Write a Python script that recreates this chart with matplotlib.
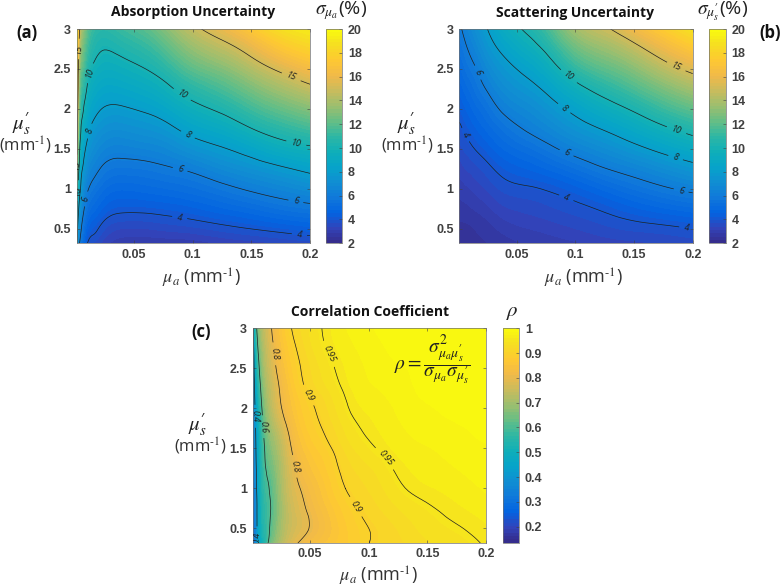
import numpy as np
import matplotlib
matplotlib.use('Agg')
from matplotlib import pyplot as plt
from matplotlib import tri
from matplotlib.colors import LinearSegmentedColormap

# grid the values were read on
mua = [0.001, 0.003, 0.006, 0.01, 0.015, 0.025, 0.04, 0.06, 0.08, 0.1, 0.125, 0.15, 0.175, 0.2]
mus = [0.3, 0.5, 0.75, 1, 1.25, 1.5, 1.75, 2, 2.25, 2.5, 2.75, 3]

# one list per mua column, bottom to top in mus
absorption = [
    [8.5, 9.5, 10.5, 12.2, 15, 17.5, 19, 20, 20.5, 21, 21.5, 22],
    [6.2, 7, 7.9, 9, 10.1, 11, 11.9, 12.7, 13.4, 14.1, 14.85, 15.6],
    [5.1, 5.7, 6.45, 7.25, 8, 8.75, 9.5, 10.3, 11.1, 11.9, 12.7, 13.5],
    [4, 4.63, 5.43, 6.2, 6.95, 7.7, 8.45, 9.18, 9.92, 10.65, 11.4, 12.15],
    [3.6, 4.22, 4.95, 5.66, 6.36, 7.05, 7.72, 8.42, 9.1, 9.8, 10.5, 11.2],
    [3.2, 3.7, 4.42, 5.1, 5.8, 6.5, 7.2, 7.92, 8.62, 9.33, 10.03, 10.75],
    [2.9, 3.4, 4.15, 4.85, 5.6, 6.35, 7.1, 7.88, 8.68, 9.5, 10.35, 11.25],
    [2.85, 3.4, 4.17, 4.95, 5.68, 6.5, 7.33, 8.17, 9.07, 10, 10.95, 11.95],
    [2.85, 3.5, 4.28, 5.1, 5.9, 6.8, 7.75, 8.75, 9.8, 10.9, 12.05, 13.2],
    [2.9, 3.6, 4.45, 5.3, 6.2, 7.35, 8.45, 9.55, 10.7, 12, 13.3, 14.6],
    [3.1, 3.8, 4.75, 5.7, 6.8, 7.9, 9.05, 10.3, 11.55, 12.9, 14.35, 15.8],
    [3.2, 4, 5.05, 6.15, 7.3, 8.55, 9.95, 11.3, 12.65, 14.1, 15.6, 17.2],
    [3.35, 4.2, 5.4, 6.55, 7.8, 9.3, 10.75, 12.2, 13.7, 15.3, 17, 18.6],
    [3.45, 4.4, 5.65, 6.95, 8.3, 9.75, 11.35, 12.95, 14.6, 16.3, 17.9, 19.2],
]
scattering = [
    [2.55, 2.5, 2.7, 2.95, 3.25, 3.55, 3.88, 4.25, 4.65, 5.05, 5.45, 5.9],
    [2.5, 2.5, 2.72, 3, 3.3, 3.65, 3.97, 4.33, 4.73, 5.15, 5.57, 6],
    [2.45, 2.5, 2.75, 3.05, 3.4, 3.75, 4.12, 4.5, 4.93, 5.38, 5.83, 6.3],
    [2.45, 2.52, 2.8, 3.12, 3.48, 3.87, 4.28, 4.7, 5.15, 5.65, 6.15, 6.65],
    [2.48, 2.58, 2.88, 3.22, 3.6, 4.03, 4.5, 4.97, 5.47, 5.96, 6.55, 7.15],
    [2.55, 2.72, 3.05, 3.45, 3.85, 4.35, 4.9, 5.45, 6.1, 6.75, 7.4, 8],
    [2.7, 2.95, 3.35, 3.78, 4.25, 4.85, 5.5, 6.25, 6.95, 7.6, 8.35, 9.2],
    [2.85, 3.12, 3.5, 3.92, 4.55, 5.3, 6.15, 6.85, 7.6, 8.4, 9.35, 10.3],
    [2.95, 3.25, 3.65, 4.1, 4.9, 5.85, 6.75, 7.55, 8.45, 9.5, 10.65, 11.8],
    [3.05, 3.4, 3.82, 4.4, 5.35, 6.4, 7.4, 8.35, 9.5, 10.9, 12.3, 13.7],
    [3.2, 3.6, 4.1, 4.9, 5.95, 7, 8.1, 9.3, 10.6, 12, 13.4, 14.8],
    [3.3, 3.75, 4.45, 5.4, 6.45, 7.65, 8.9, 10.2, 11.6, 13, 14.5, 16.1],
    [3.4, 3.85, 4.75, 5.85, 7, 8.35, 9.75, 11.2, 12.7, 14.3, 15.9, 17.5],
    [3.5, 4, 5, 6.25, 7.55, 9, 10.5, 12.05, 13.7, 15.4, 17.1, 18.8],
]
correlation = [
    [.28, .28, .27, .27, .28, .28, .28, .28, .3, .3, .32, .33],
    [.33, .33, .34, .35, .36, .37, .38, .4, .42, .45, .48, .52],
    [.45, .45, .45, .46, .47, .48, .49, .51, .54, .58, .62, .66],
    [.52, .54, .55, .56, .57, .58, .6, .63, .66, .69, .71, .73],
    [.62, .595, .59, .6, .625, .65, .68, .71, .73, .75, .765, .78],
    [.72, .7, .69, .7, .71, .73, .76, .795, .81, .83, .845, .86],
    [.805, .775, .78, .795, .815, .835, .855, .87, .885, .895, .905, .915],
    [.85, .83, .84, .855, .87, .885, .9, .91, .925, .935, .945, .95],
    [.875, .875, .885, .9, .91, .922, .935, .946, .954, .96, .966, .972],
    [.9, .9, .91, .92, .93, .945, .955, .962, .97, .975, .98, .985],
    [.915, .92, .932, .945, .954, .963, .97, .975, .98, .985, .99, .99],
    [.93, .938, .947, .958, .965, .972, .98, .985, .99, .99, .995, .995],
    [.94, .948, .957, .965, .973, .98, .985, .99, .992, .995, .995, .998],
    [.952, .958, .965, .975, .98, .985, .99, .993, .995, .997, .998, 1.0],
]

xticks = [0.05, 0.1, 0.15, 0.2]
xticklabels = ['0.05', '0.1', '0.15', '0.2']
yticks = [0.5, 1, 1.5, 2, 2.5, 3]
yticklabels = ['0.5', '1', '1.5', '2', '2.5', '3']
unc_ticks = [2, 4, 6, 8, 10, 12, 14, 16, 18, 20]
rho_ticks = [.2, .3, .4, .5, .6, .7, .8, .9, 1]
rho_ticklabels = ['0.2', '0.3', '0.4', '0.5', '0.6', '0.7', '0.8', '0.9', '1']
unc_levels = [4, 6, 8, 10, 15]
rho_levels = [.4, .6, .8, .9, .95]

# parula, every few entries of the table
parula = LinearSegmentedColormap.from_list('parula', [
    (.2081, .1663, .5292), (.1959, .2645, .7279), (.0117, .3875, .8820),
    (.0629, .4737, .8554), (.0641, .5570, .8240), (.0231, .6418, .7913),
    (.0590, .6838, .7254), (.1801, .7177, .6424), (.3953, .7459, .5244),
    (.6099, .7473, .4337), (.7858, .7356, .3633), (.9450, .7261, .2886),
    (.9955, .7861, .1967), (.9626, .8705, .1309), (.9763, .9831, .0538)], N=256)

plt.rcParams['font.family'] = ['Open Sans', 'DejaVu Sans']
plt.rcParams['mathtext.fontset'] = 'stix'
plt.rcParams['mathtext.default'] = 'it'

W, H = 781, 587
fig = plt.figure(figsize=(W / 100, H / 100), dpi=100)
grey = '#404040'
prime = '^{\\mathregular{\u2032}}'


def box(x0, y0, x1, y1):
    # pixel box (y down) to figure fractions
    return [x0 / W, 1 - y1 / H, (x1 - x0) / W, (y1 - y0) / H]


def put(x, y, s, **kw):
    return fig.text(x / W, 1 - y / H, s, ha='center', va='center', **kw)


def panel(values, pos, cpos, vmin, vmax, levels, label_pos, cticks, cticklabels):
    ax = fig.add_axes(box(*pos))
    xx, yy = np.meshgrid(mua, mus)
    z = np.array(values).T.ravel()
    # smooth the read grid with matplotlib's cubic refiner; sqrt of mua keeps the cells even
    t = tri.Triangulation(np.sqrt(xx.ravel() / 0.2), yy.ravel() / 3)
    fine, zf = tri.UniformTriRefiner(t).refine_field(z, tri.CubicTriInterpolator(t, z), subdiv=3)
    fine = tri.Triangulation(fine.x ** 2 * 0.2, fine.y * 3, fine.triangles)
    fill = ax.tricontourf(fine, np.clip(zf, vmin, vmax), levels=np.linspace(vmin, vmax, 65),
                          cmap=parula, vmin=vmin, vmax=vmax)
    lines = ax.tricontour(fine, zf, levels=levels, colors='#202020', linewidths=0.5)
    lab = ax.clabel(lines, manual=label_pos, inline=True, fontsize=6.5, fmt='%g')
    for tx in lab:
        tx.set_fontstyle('italic')
    ax.set_xlim(0.001, 0.2)
    ax.set_ylim(0.32, 3)
    ax.set_xticks(xticks, xticklabels)
    ax.set_yticks(yticks, yticklabels)
    ax.tick_params(direction='in', length=2, width=0.4, color=grey, labelcolor=grey,
                   labelsize=9, pad=4, top=True, right=True)
    for tx in ax.get_xticklabels() + ax.get_yticklabels():
        tx.set_family('Liberation Sans')
        tx.set_weight('bold')
    for s in ax.spines.values():
        s.set_linewidth(0.5)
        s.set_color('#707070')

    cax = fig.add_axes(box(*cpos))
    cb = fig.colorbar(fill, cax=cax)
    cb.set_ticks(cticks, labels=cticklabels)
    cb.ax.tick_params(direction='in', length=2, width=0.4, color=grey, labelcolor=grey,
                      labelsize=9, pad=4)
    for tx in cb.ax.get_yticklabels():
        tx.set_family('Liberation Sans')
        tx.set_weight('bold')
    cb.outline.set_linewidth(0.5)
    cb.outline.set_edgecolor('#707070')
    return ax


panel(absorption, (76.5, 29, 310, 243.3), (326, 29, 342.3, 243.3), 2, 20, unc_levels,
      [(.089, .65), (.191, .43), (.009, .875), (.089, 1.225), (.188, .85),
       (.013, 1.72), (.096, 1.68), (.012, 2.45), (.091, 2.18), (.188, 1.55), (.184, 2.4),
       (.0035, 2.75), (.002, .98), (.0015, 1.3)],
      unc_ticks, [str(t) for t in unc_ticks])
panel(scattering, (459.3, 29, 692.7, 243.3), (709.3, 29, 726, 243.3), 2, 20, unc_levels,
      [(.006, 1.675), (.092, .88), (.195, .52), (.016, 2.45), (.093, 1.47), (.19, .97),
       (.09, 2.0), (.185, 1.37), (.095, 2.42), (.186, 1.725), (.186, 2.53)],
      unc_ticks, [str(t) for t in unc_ticks])
panel(correlation, (252.7, 328.3, 486, 542.7), (503.3, 328.3, 519.3, 542.7), 0.135, 1, rho_levels,
      [(.003, 1.9), (.004, .38), (.0097, 1.77), (.019, 2.68), (.035, 1.27), (.047, 2.15),
       (.089, .77), (.066, 2.68), (.112, 1.35)],
      rho_ticks, rho_ticklabels)

# titles
put(193, 12, 'Absorption Uncertainty', fontsize=10, weight='bold', color='#111111')
put(575, 13, 'Scattering Uncertainty', fontsize=10, weight='bold', color='#111111')
put(370, 312, 'Correlation Coefficient', fontsize=10, weight='bold', color='#111111')

# colorbar headings
put(341, 11, r'$\sigma_{\mu_a}$(%)', fontsize=14, color='#222222')
put(723, 11, r'$\sigma_{\mu_s' + prime + '}$(%)', fontsize=14, color='#222222')
put(512, 312, r'$\rho$', fontsize=15, color='#222222')

# panel letters
put(27, 33, '(a)', fontsize=12, weight='bold', color='#111111')
put(770, 33, '(b)', fontsize=12, weight='bold', color='#111111')
put(201, 332, '(c)', fontsize=12, weight='bold', color='#111111')

# axis labels
unit = '(mm$^{\\mathregular{\u2010}1}$)'
for x, y in [(22, 123), (407, 123), (198, 424)]:
    put(x, y, r'$\mu_s' + prime + '$', fontsize=15, color='#222222')
for x, y in [(25, 145), (407, 145), (200, 446)]:
    put(x, y, unit, fontsize=12, color='#333333')
for x, y in [(201, 278), (583, 278), (378, 576)]:
    put(x, y, r'$\mu_a$ ' + unit, fontsize=13, color='#333333')

put(432, 360, r'$\rho = \dfrac{\sigma^2_{\mu_a\mu_s' + prime + r'}}{\sigma_{\mu_a}\sigma_{\mu_s' + prime + '}}$',
    fontsize=14, color='#222222')

fig.savefig('out.png', dpi=100)
